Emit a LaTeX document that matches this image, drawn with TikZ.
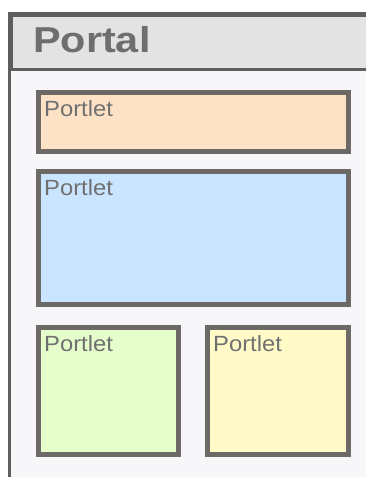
\documentclass[tikz,border=0pt]{standalone}
\usepackage{fontspec}
\setmainfont{Liberation Sans}
\newfontfamily\titlefont[FakeStretch=1.15]{Liberation Sans}
\newfontfamily\portletfont[FakeStretch=1.08]{Liberation Sans}
\usetikzlibrary{positioning}

\definecolor{framegray}{HTML}{5E5E5E}
\definecolor{headgray}{HTML}{E3E3E3}
\definecolor{bodygray}{HTML}{F7F7F9}
\definecolor{boxgray}{HTML}{6C6966}
\definecolor{textgray}{HTML}{707070}
\definecolor{peach}{HTML}{FDE2C5}
\definecolor{skyblue}{HTML}{C9E5FF}
\definecolor{palegreen}{HTML}{E5FDCB}
\definecolor{paleyellow}{HTML}{FFFAC8}

\begin{document}
\begin{tikzpicture}[x=1pt, y=1pt,
    portlet/.style={rectangle, draw=boxgray, line width=5pt, anchor=north west,
        inner sep=0pt,
        label={[anchor=north west, inner sep=0pt, xshift=8.5pt, yshift=-10pt,
            text=textgray, font=\portletfont\fontsize{22}{24}\selectfont]north west:Portlet}}]
    \useasboundingbox[fill=white] (0,0) rectangle (366,477);
    % frame of the portal page
    \draw[framegray, line width=3pt, fill=bodygray] (9.5,-10) rectangle (375,463);
    \node[rectangle, draw=framegray, line width=3pt, fill=headgray, anchor=north west,
        minimum width=370pt, minimum height=54pt, inner sep=0pt] (header) at (9.5,463) {};
    \node[anchor=base west, inner sep=0pt, text=framegray!90,
        font=\titlefont\bfseries\fontsize{36}{40}\selectfont] (title) at (33,424) {Portal};

    % portlets
    \node[portlet, fill=peach, minimum width=310pt, minimum height=59pt] (p1) at (35.5,386.5) {};
    \node[portlet, fill=skyblue, minimum width=310pt, minimum height=133pt] (p2) at (35.5,307.5) {};
    \node[portlet, fill=palegreen, minimum width=140pt, minimum height=127pt] (p3) at (35.5,151.5) {};
    \node[portlet, fill=paleyellow, minimum width=141pt, minimum height=127pt] (p4) at (204.5,151.5) {};
\end{tikzpicture}
\end{document}
